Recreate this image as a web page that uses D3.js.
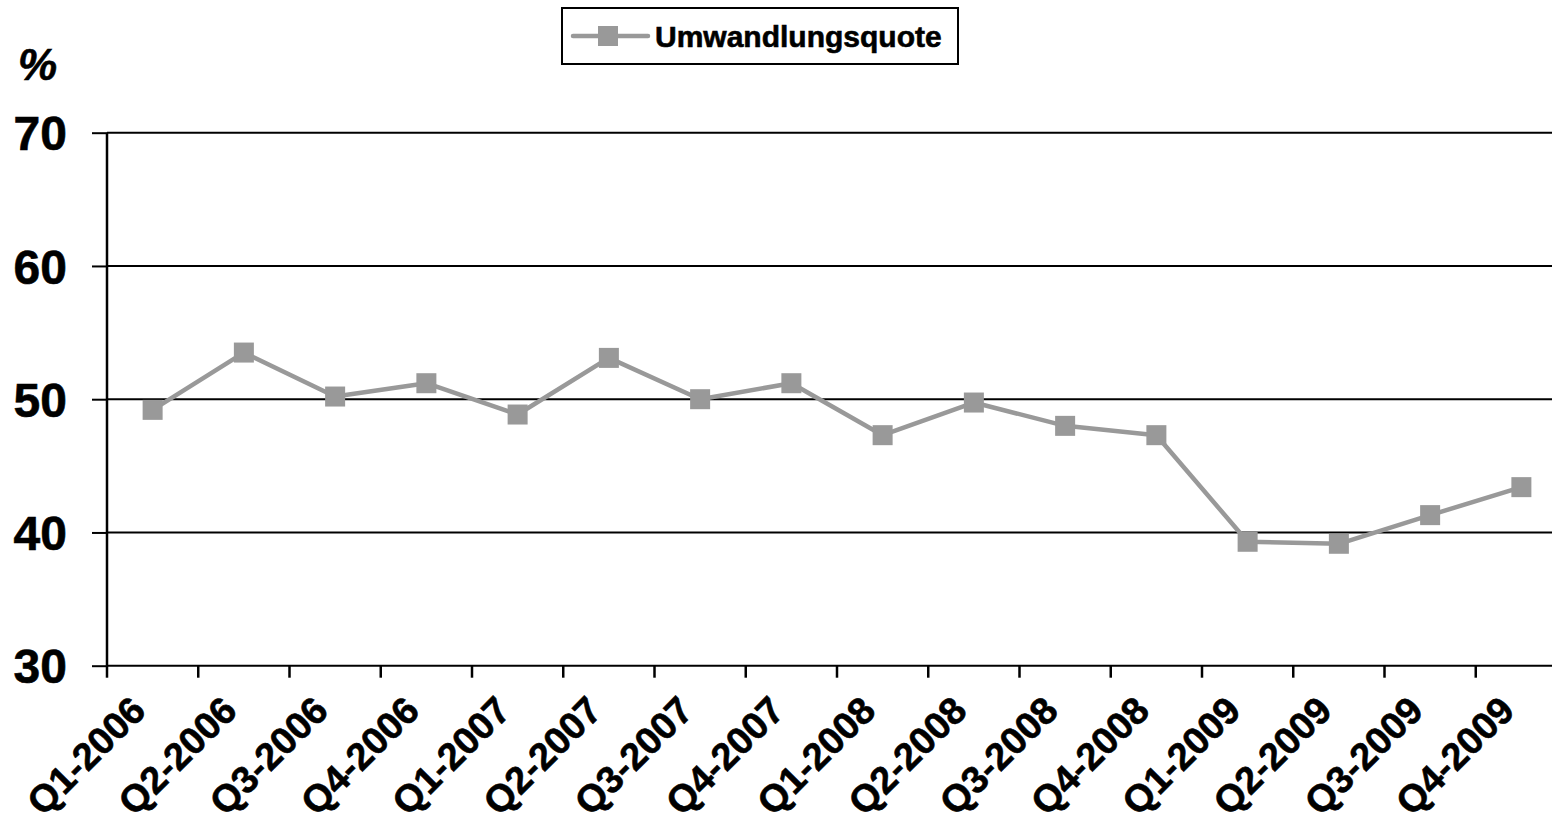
<!DOCTYPE html>
<html>
<head>
<meta charset="utf-8">
<script src="https://cdn.jsdelivr.net/npm/d3@7"></script>
<style>
  html, body { margin: 0; padding: 0; background: #fff; }
  svg { display: block; font-family: "Liberation Sans", Arial, sans-serif; }
  .bold { stroke: #000; stroke-width: 0.6px; paint-order: stroke; }
</style>
</head>
<body>
<svg id="chart" width="1552" height="825"></svg>
<script>
// Quarterly conversion rate (%)
const categories = ["Q1-2006","Q2-2006","Q3-2006","Q4-2006","Q1-2007","Q2-2007","Q3-2007","Q4-2007",
                    "Q1-2008","Q2-2008","Q3-2008","Q4-2008","Q1-2009","Q2-2009","Q3-2009","Q4-2009"];
const quote = [49.2, 53.5, 50.2, 51.2, 48.85, 53.1, 50.0, 51.2, 47.3, 49.75, 48.0, 47.3, 39.3, 39.15, 41.3, 43.4];
const yTicks = [30, 40, 50, 60, 70];
const seriesName = "Umwandlungsquote";
const unitLabel = "%";

const svg = d3.select("#chart");
const plotLeft = 107, plotTop = 132.7, plotBottom = 665.7, step = 91.25;
const plotRight = plotLeft + step * categories.length;
const grey = "#999999";

const x = d3.scaleBand().domain(categories).range([plotLeft, plotRight]).padding(0);
const y = d3.scaleLinear().domain([30, 70]).range([plotBottom, plotTop]);

// horizontal gridlines
svg.append("g").selectAll("line").data(yTicks).join("line")
  .attr("x1", plotLeft).attr("x2", plotRight)
  .attr("y1", d => y(d)).attr("y2", d => y(d))
  .attr("stroke", "#000").attr("stroke-width", 2);

// y axis
const yAxis = svg.append("g").attr("transform", `translate(${plotLeft},0)`)
  .call(d3.axisLeft(y).tickValues(yTicks).tickSize(15).tickPadding(25).tickFormat(d3.format("d")));
yAxis.select(".domain").attr("stroke", "#000").attr("stroke-width", 2.5).attr("d", `M0,${plotTop}V${plotBottom}`);
yAxis.selectAll(".tick line").attr("stroke", "#000").attr("stroke-width", 2);
yAxis.selectAll(".tick text").attr("class", "bold").attr("fill", "#000").attr("font-size", 48).attr("font-weight", "bold")
  .attr("font-family", "'Liberation Sans', Arial, sans-serif").attr("dy", "0.36em");

// x axis: ticks at category boundaries
const bounds = categories.map(c => x(c)).concat([x(categories[categories.length - 1]) + x.bandwidth()]);
svg.append("g").selectAll("line").data(bounds).join("line")
  .attr("x1", d => d).attr("x2", d => d)
  .attr("y1", plotBottom).attr("y2", plotBottom + 12)
  .attr("stroke", "#000").attr("stroke-width", 2.5);

// x labels rotated
svg.append("g").selectAll("text").data(categories).join("text")
  .attr("class", "bold")
  .attr("transform", d => `translate(${x(d) + x.bandwidth() / 2 - 5},${plotBottom + 47}) rotate(-45)`)
  .attr("text-anchor", "end")
  .attr("font-size", 38).attr("font-weight", "bold").attr("fill", "#000")
  .text(d => d);

// unit label
svg.append("text").attr("class", "bold").attr("x", 18).attr("y", 80)
  .attr("font-size", 44).attr("font-weight", "bold").attr("font-style", "italic")
  .text(unitLabel);

// series line and markers
const pts = categories.map((c, i) => [x(c) + x.bandwidth() / 2, y(quote[i])]);
svg.append("path").datum(pts)
  .attr("d", d3.line())
  .attr("fill", "none").attr("stroke", grey).attr("stroke-width", 4.5).attr("stroke-linejoin", "round");
svg.append("g").selectAll("rect").data(pts).join("rect")
  .attr("x", d => d[0] - 10).attr("y", d => d[1] - 10)
  .attr("width", 20).attr("height", 20).attr("fill", grey);

// legend
const lg = svg.append("g");
lg.append("rect").attr("x", 562).attr("y", 8).attr("width", 396).attr("height", 56)
  .attr("fill", "#fff").attr("stroke", "#000").attr("stroke-width", 2);
lg.append("line").attr("x1", 573).attr("x2", 648).attr("y1", 36).attr("y2", 36)
  .attr("stroke", grey).attr("stroke-width", 4.5).attr("stroke-linecap", "round");
lg.append("rect").attr("x", 598).attr("y", 26).attr("width", 20).attr("height", 20).attr("fill", grey);
lg.append("text").attr("class", "bold").attr("x", 655).attr("y", 47)
  .attr("font-size", 30).attr("font-weight", "bold").text(seriesName);
</script>
</body>
</html>
